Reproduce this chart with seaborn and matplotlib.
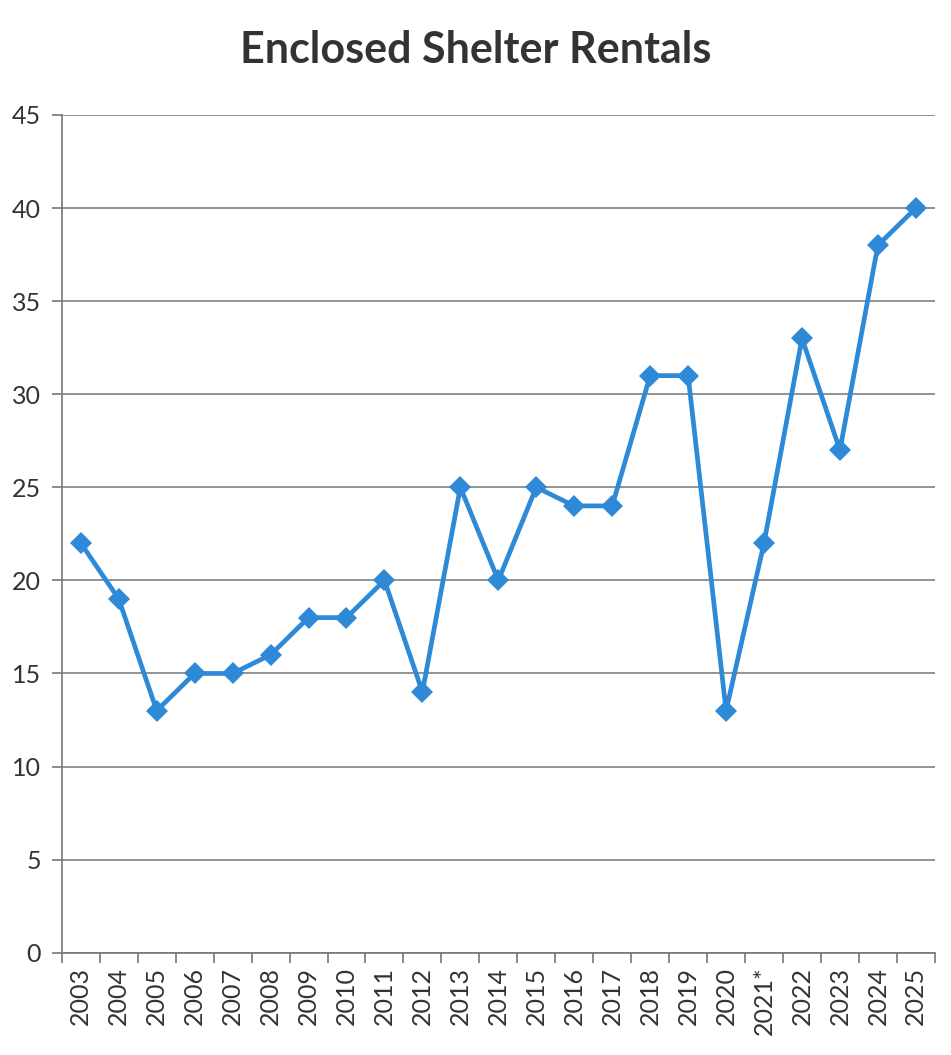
import numpy as np
import pandas as pd
import seaborn as sns
from matplotlib import pyplot as plt

years = ["2003", "2004", "2005", "2006", "2007", "2008", "2009", "2010",
         "2011", "2012", "2013", "2014", "2015", "2016", "2017", "2018",
         "2019", "2020", "2021*", "2022", "2023", "2024", "2025"]
rentals = [22, 19, 13, 15, 15, 16, 18, 18, 20, 14, 25, 20, 25, 24, 24, 31,
           31, 13, 22, 33, 27, 38, 40]

df = pd.DataFrame({"year": years, "rentals": rentals})
df["pos"] = np.arange(len(df))

sns.set_theme(style="white")
plt.rcParams["font.family"] = ["Lato", "DejaVu Sans"]

fig = plt.figure(figsize=(9.51, 10.55), dpi=100)
ax = fig.add_axes([0.065, 0.097, 0.918, 0.794])

sns.lineplot(data=df, x="pos", y="rentals", ax=ax, color="#2E8AD6",
             linewidth=3.4, marker="D", markersize=11, markeredgewidth=0)

ax.set_xlim(-0.5, len(df) - 0.5)
ax.set_ylim(0, 45)
ax.set_yticks(range(0, 46, 5))
ax.yaxis.grid(True, color="#8a8a8a", linewidth=1.3)
ax.set_xticks(df["pos"])
ax.set_xticklabels(df["year"], rotation=90, fontsize=18, color="#333333")
ax.set_xticks(np.arange(-0.5, len(df)), minor=True)
ax.tick_params(axis="x", which="major", length=0, pad=10)
ax.tick_params(axis="x", which="minor", length=7, width=1.2, color="#777777",
               direction="out", bottom=True)
ax.tick_params(axis="y", length=7, width=1.2, color="#777777", left=True,
               labelsize=18, labelcolor="#333333", pad=8)

for side in ["top", "right"]:
    ax.spines[side].set_visible(False)
for side in ["left", "bottom"]:
    ax.spines[side].set_color("#777777")
    ax.spines[side].set_linewidth(1.2)

ax.set_xlabel("")
ax.set_ylabel("")
fig.text(0.5, 0.953, "Enclosed Shelter Rentals", ha="center", va="center",
         fontsize=31, fontweight="bold", color="#333333")

fig.savefig("out.png", dpi=100)
